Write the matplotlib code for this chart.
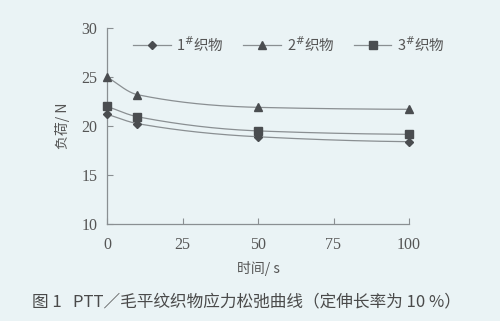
import numpy as np
import matplotlib
matplotlib.use("Agg")
import matplotlib.pyplot as plt

time_s = [0, 10, 50, 100]
fabric1 = [21.2, 20.25, 18.9, 18.4]
fabric2 = [25.0, 23.2, 21.9, 21.7]
fabric3 = [22.0, 20.95, 19.5, 19.15]
labels = ["1$^{\\#}$织物", "2$^{\\#}$织物", "3$^{\\#}$织物"]
markers = ["D", "^", "s"]
xticks = [0, 25, 50, 75, 100]
yticks = [10, 15, 20, 25, 30]

plt.rcParams['font.family'] = ['Noto Sans CJK SC', 'DejaVu Sans']
bg = "#eaf3f5"
txt = "#555555"
linec = "#8a8f92"
markc = "#4a4d50"


def pchip(x, y, n=200):
    x = np.asarray(x, float); y = np.asarray(y, float)
    h = np.diff(x); d = np.diff(y) / h
    m = np.zeros_like(y)
    for k in range(1, len(x) - 1):
        if d[k - 1] * d[k] > 0:
            w1 = 2 * h[k] + h[k - 1]; w2 = h[k] + 2 * h[k - 1]
            m[k] = (w1 + w2) / (w1 / d[k - 1] + w2 / d[k])
    m[0] = d[0]; m[-1] = d[-1] * 0.3
    xs = np.linspace(x[0], x[-1], n)
    ys = np.empty_like(xs)
    for i, xv in enumerate(xs):
        k = min(np.searchsorted(x, xv, side='right') - 1, len(x) - 2)
        t = (xv - x[k]) / h[k]
        h00 = 2*t**3 - 3*t**2 + 1; h10 = t**3 - 2*t**2 + t
        h01 = -2*t**3 + 3*t**2; h11 = t**3 - t**2
        ys[i] = h00*y[k] + h10*h[k]*m[k] + h01*y[k+1] + h11*h[k]*m[k+1]
    return xs, ys


fig = plt.figure(figsize=(5.0, 3.21), dpi=100, facecolor=bg)
ax = fig.add_axes([0.214, 0.302, 0.604, 0.611], facecolor=bg)

for ys, mk, lb in zip([fabric1, fabric2, fabric3], markers, labels):
    ms = 5.5 if mk != "D" else 4.5
    xs_s, ys_s = pchip(time_s, ys)
    ax.plot(xs_s, ys_s, color=linec, lw=0.9, clip_on=False)
    ax.plot(time_s, ys, ls='none', marker=mk, color=markc, ms=ms,
            clip_on=False, zorder=5)
    ax.plot([], [], color=linec, lw=0.9, marker=mk, mfc=markc, mec=markc,
            ms=ms, label=lb)

ax.set_xlim(0, 100)
ax.set_ylim(10, 30)
ax.set_xticks(xticks)
ax.set_yticks(yticks)
ax.tick_params(direction='in', length=4, color=linec, labelsize=11.5,
               labelcolor=txt)
ax.tick_params(axis='x', pad=9)
ax.tick_params(axis='y', pad=7)
for lab in ax.get_xticklabels() + ax.get_yticklabels():
    lab.set_family('Liberation Serif')
for s in ['top', 'right']:
    ax.spines[s].set_visible(False)
for s in ['left', 'bottom']:
    ax.spines[s].set_color(linec)
    ax.spines[s].set_linewidth(0.9)

ax.set_xlabel("时间/ s", fontsize=10, color=txt, labelpad=6)
ax.set_ylabel("负荷/ N", fontsize=10, color=txt, labelpad=8)

leg = fig.legend(loc='upper left', bbox_to_anchor=(0.245, 0.925), ncol=3,
                 frameon=False, fontsize=10.5, handlelength=2.6,
                 columnspacing=1.3, handletextpad=0.4, borderpad=0.2)
for t in leg.get_texts():
    t.set_color(txt)

fig.text(0.064, 0.06, "图 1   PTT／毛平纹织物应力松弛曲线（定伸长率为 10 %）",
         fontsize=12, color="#4a4a4a", ha='left', va='center')

fig.savefig("out.png", dpi=100, facecolor=bg)
